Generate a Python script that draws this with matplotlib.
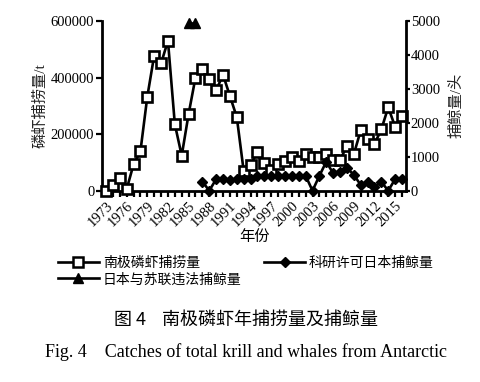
import matplotlib
matplotlib.use("Agg")
import matplotlib.pyplot as plt
from matplotlib.lines import Line2D

plt.rcParams["font.family"] = ["Liberation Serif", "Noto Sans CJK SC"]
plt.rcParams["axes.unicode_minus"] = False

YEARS = list(range(1973, 2017))

KRILL = [
    0, 20000, 46000, 5000, 93000, 139000, 332000, 478000, 450000, 530000,
    235000, 124000, 271000, 400000, 432000, 395000, 355000, 410000, 335000, 260000,
    70000, 92000, 136000, 97000, 74000, 95000, 105000, 119000, 104000, 128000,
    120000, 120000, 131000, 108000, 108000, 158000, 129000, 213000, 184000, 165000,
    217000, 295000, 226000, 264000,
]

WHALE_YEARS = list(range(1987, 2017))
WHALE_SCI = [
    270, 0, 340, 330, 320, 330, 340, 350, 440, 440,
    440, 420, 440, 440, 440, 440, 0, 440, 854, 513,
    560, 670, 470, 168, 265, 110, 260, 0, 340, 340,
]

ILLEGAL_YEARS = [1985, 1986]
WHALE_ILLEGAL = [4950, 4950]

TICK_YEARS = list(range(1973, 2016, 3))

LABEL_KRILL = "南极磷虾捕捞量"
LABEL_SCI = "科研许可日本捕鲸量"
LABEL_ILLEGAL = "日本与苏联违法捕鲸量"

fig = plt.figure(figsize=(4.81, 3.82), dpi=100)
ax = fig.add_axes([102 / 481, 1 - 190.7 / 382, 304 / 481, 169.7 / 382])
ax2 = ax.twinx()

ax.plot(YEARS, KRILL, color="black", lw=1.9, marker="s", markersize=7.5,
        markerfacecolor="white", markeredgecolor="black", markeredgewidth=1.9,
        clip_on=False, zorder=3)
ax2.plot(WHALE_YEARS, WHALE_SCI, color="black", lw=1.9, marker="D", markersize=5.5,
         markerfacecolor="black", clip_on=False, zorder=3)
ax2.plot(ILLEGAL_YEARS, WHALE_ILLEGAL, color="black", lw=1.9, marker="^", markersize=6.5,
         markerfacecolor="black", clip_on=False, zorder=3)

ax.set_xlim(1972.42, 2016.58)
ax.set_ylim(0, 600000)
ax2.set_ylim(0, 5000)

ax.set_xticks(YEARS)
ax.set_xticklabels([str(y) if y in TICK_YEARS else "" for y in YEARS],
                   rotation=45, ha="right", rotation_mode="anchor", fontsize=10.5)
ax.set_yticks([0, 200000, 400000, 600000])
ax2.set_yticks([0, 1000, 2000, 3000, 4000, 5000])

for a in (ax, ax2):
    a.spines["top"].set_visible(False)
    for s in ("left", "right", "bottom"):
        a.spines[s].set_linewidth(2)
    a.tick_params(axis="both", width=1.6, length=4, labelsize=10.5, pad=1.5)
ax.spines["right"].set_visible(False)
ax2.spines["left"].set_visible(False)
ax2.spines["bottom"].set_visible(False)
ax.tick_params(axis="x", pad=2, labelsize=10.5)
ax2.tick_params(axis="y", length=3, pad=0.5)

ax.set_ylabel("磷虾捕捞量/t", fontsize=11, color="#222222")
ax.yaxis.set_label_coords(-0.18, 0.5)
ax2.set_ylabel("捕鲸量/头", fontsize=11, color="#222222")
ax2.yaxis.set_label_coords(1.145, 0.5)
ax.set_xlabel("年份", fontsize=11, labelpad=1)

handles = [
    Line2D([], [], color="black", lw=1.9, marker="s", markersize=6.5,
           markerfacecolor="white", markeredgewidth=1.8),
    Line2D([], [], color="black", lw=1.9, marker="^", markersize=6.5),
    Line2D([], [], color="black", lw=1.9, marker="D", markersize=5.5),
]
fig.legend(handles, [LABEL_KRILL, LABEL_ILLEGAL, LABEL_SCI], ncol=2,
           loc="upper left", bbox_to_anchor=(52 / 481, 1 - 251 / 382),
           frameon=False, fontsize=10, handlelength=3.0, handletextpad=0.25,
           columnspacing=1.6, labelspacing=0.25, borderaxespad=0)

fig.text(246 / 481, 1 - 320 / 382, "图 4    南极磷虾年捕捞量及捕鲸量",
         ha="center", va="center", fontsize=13, family=["Noto Sans CJK SC"],
         weight="medium")
fig.text(246 / 481, 1 - 352 / 382, "Fig. 4    Catches of total krill and whales from Antarctic",
         ha="center", va="center", fontsize=13)

fig.savefig("out.png", dpi=100)
